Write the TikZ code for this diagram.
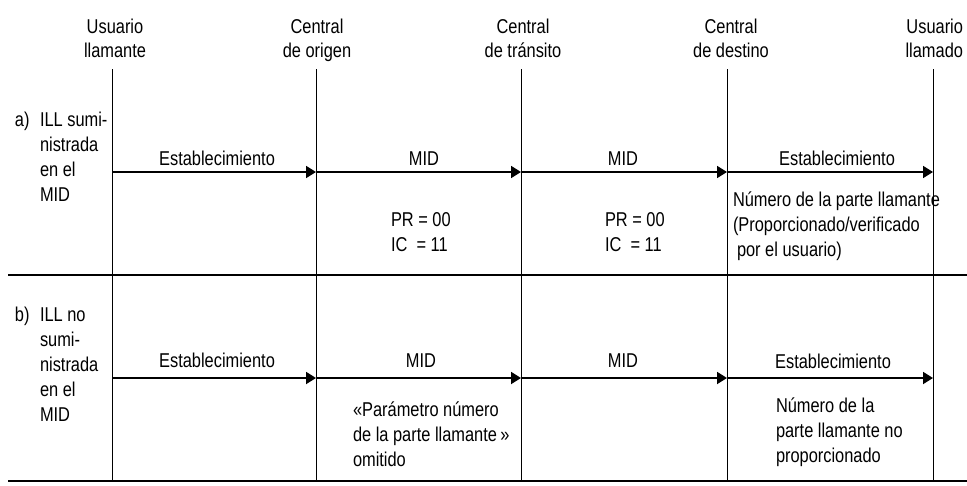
\documentclass[tikz,border=0pt]{standalone}
\usepackage{fontspec}
\setmainfont{Liberation Sans}[FakeStretch=0.82]
\usetikzlibrary{arrows.meta}
\begin{document}
\begin{tikzpicture}[x=1pt,y=-1pt,
  lbl/.style={inner sep=0pt, outer sep=0pt, font=\fontsize{20}{25}\selectfont, align=left},
  hdr/.style={inner sep=0pt, outer sep=0pt, font=\fontsize{20}{24.5}\selectfont, align=center, anchor=base},
  msg/.style={line width=1.8pt, -{Triangle[length=10pt,width=12pt]}},
  life/.style={line width=1pt},
  rulel/.style={line width=2pt}]
\useasboundingbox (0,0) rectangle (967,485);

% lifeline end points
\foreach \n/\x in {L1/112, L2/316, L3/521, L4/727, L5/933}{
  \coordinate (\n top) at (\x,69);
  \coordinate (\n bot) at (\x,481);
  \coordinate (\n-a) at (\x,172);
  \coordinate (\n-b) at (\x,378);
}
\coordinate (sepL) at (8,275);
\coordinate (sepR) at (967,275);
\coordinate (botL) at (8,481);
\coordinate (botR) at (967,481);

% lifelines
\foreach \n in {L1,L2,L3,L4,L5}{\draw[life] (\n top) -- (\n bot);}
% separators
\draw[rulel] (sepL) -- (sepR);
\draw[rulel] (botL) -- (botR);

% headers (base anchor = last line)
\node[hdr] (h1) at (115,57.5) {Usuario\\llamante};
\node[hdr] (h2) at (317,57.5) {Central\\de origen};
\node[hdr] (h3) at (523,57.5) {Central\\de tránsito};
\node[hdr] (h4) at (731,57.5) {Central\\de destino};
\node[hdr, align=right, anchor=base east] (h5) at (963,57.5) {Usuario\\llamado};

% row labels
\node[lbl, anchor=base west] (ra) at (15,126.7) {a)};
\node[lbl, anchor=base west] (rat) at (40,201.7) {ILL sumi-\\nistrada\\en el\\MID};
\node[lbl, anchor=base west] (rb) at (15,321.7) {b)};
\node[lbl, anchor=base west] (rbt) at (40,421.7) {ILL no\\sumi-\\nistrada\\en el\\MID};

% case a) messages
\draw[msg] (L1-a) -- (L2-a);
\draw[msg] (L2-a) -- (L3-a);
\draw[msg] (L3-a) -- (L4-a);
\draw[msg] (L4-a) -- (L5-a);
\node[lbl, anchor=base] (ma1) at (217,165.5) {Establecimiento};
\node[lbl, anchor=base] (ma2) at (424,165.5) {MID};
\node[lbl, anchor=base] (ma3) at (623,165.5) {MID};
\node[lbl, anchor=base] (ma4) at (837,165.5) {Establecimiento};
\node[lbl, anchor=base west] (pa2) at (391,251) {PR = 00\\IC\ \ = 11};
\node[lbl, anchor=base west] (pa3) at (605,251) {PR = 00\\IC\ \ = 11};
\node[lbl, anchor=base west] (pa4) at (733,256.5) {Número de la parte llamante\\(Proporcionado/verificado\\\hspace*{4pt}por el usuario)};

% case b) messages
\draw[msg] (L1-b) -- (L2-b);
\draw[msg] (L2-b) -- (L3-b);
\draw[msg] (L3-b) -- (L4-b);
\draw[msg] (L4-b) -- (L5-b);
\node[lbl, anchor=base] (mb1) at (217,367) {Establecimiento};
\node[lbl, anchor=base] (mb2) at (421,367) {MID};
\node[lbl, anchor=base] (mb3) at (623,367) {MID};
\node[lbl, anchor=base] (mb4) at (833,368) {Establecimiento};
\node[lbl, anchor=base west] (pb2) at (353,466.5) {«Parámetro número\\de la parte llamante\,»\\omitido};
\node[lbl, anchor=base west] (pb4) at (776,462.5) {Número de la\\parte llamante no\\proporcionado};
\end{tikzpicture}
\end{document}
